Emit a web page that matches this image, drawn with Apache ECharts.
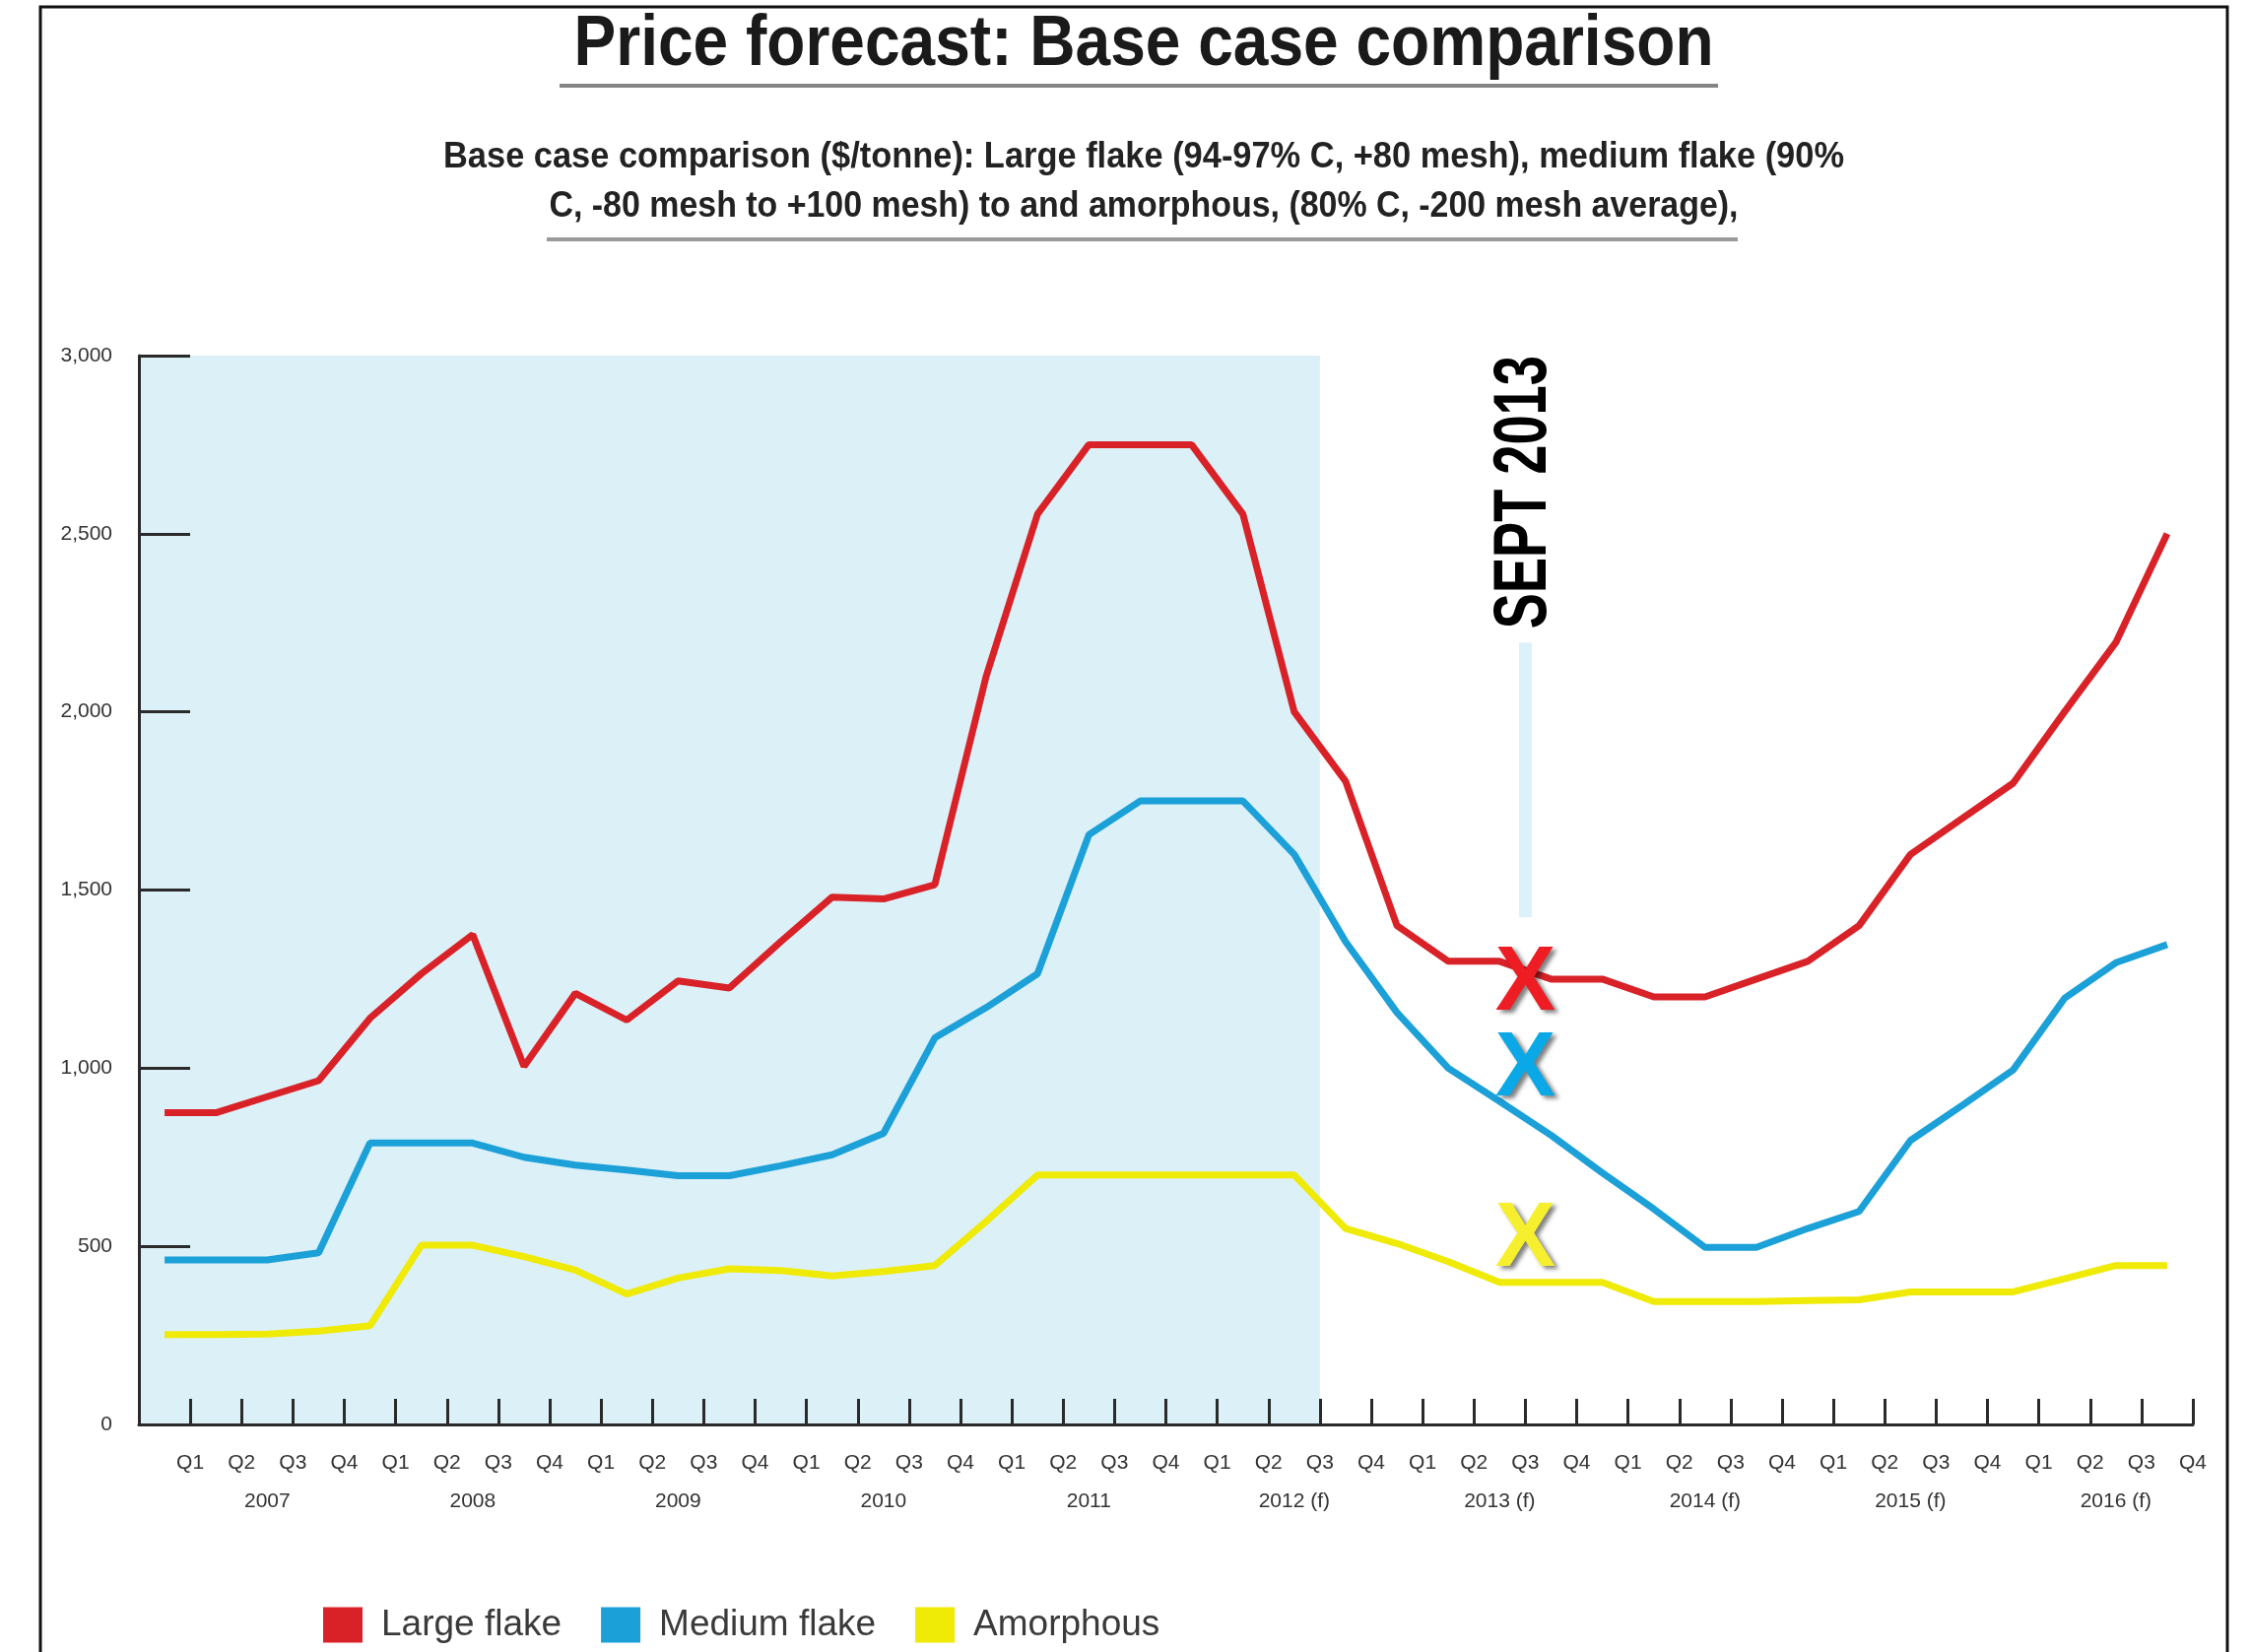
<!DOCTYPE html>
<html>
<head>
<meta charset="utf-8">
<title>Price forecast: Base case comparison</title>
<script src="https://cdn.jsdelivr.net/npm/echarts@6/dist/echarts.min.js"></script>
<style>
  html, body { margin: 0; padding: 0; background: #fff; }
  #main { width: 2284px; height: 1677px; }
</style>
</head>
<body>
<div id="main"></div>
<script>
// quarters and years along the x axis
const quarterLabels = ['Q1', 'Q2', 'Q3', 'Q4']
const years = ['2007', '2008', '2009', '2010', '2011', '2012 (f)', '2013 (f)', '2014 (f)', '2015 (f)', '2016 (f)']

// $/tonne, one value per quarter, 2007 Q1 .. 2016 Q4
const largeFlake = [
  875, 875, 920, 965, 1140, 1265, 1375, 1005, 1210, 1135,
  1245, 1225, 1355, 1480, 1475, 1515, 2100, 2555, 2750, 2750,
  2750, 2555, 2000, 1805, 1400, 1300, 1300, 1250, 1250, 1200,
  1200, 1250, 1300, 1400, 1600, 1700, 1800, 2000, 2195, 2500
]
const mediumFlake = [
  462, 462, 462, 482, 790, 790, 790, 750, 728, 714,
  698, 698, 726, 757, 817, 1085, 1170, 1265, 1655, 1750,
  1750, 1750, 1600, 1355, 1156, 1000, 907, 812, 706, 605,
  497, 497, 550, 598, 797, 895, 995, 1196, 1296, 1347
]
const amorphous = [
  252, 252, 254, 262, 277, 503, 503, 471, 433, 366,
  411, 437, 432, 417, 429, 446, 570, 700, 700, 700,
  700, 700, 700, 550, 508, 457, 399, 399, 399, 345,
  345, 345, 348, 350, 372, 372, 372, 409, 446, 446
]

// y axis ticks
const yMin = 0
const yMax = 3000
const yStep = 500

// shaded history runs up to this quarter boundary (2012 Q3)
const historyEnd = 23
// Sept 2013 annotation: quarter boundary, X marks, light bar range
const septQuarter = 27
const septMarks = [1235, 995, 515]
const septBar = [1424, 2195]

const RED = '#d92228'
const BLUE = '#1ba0d8'
const YELLOW = '#efea06'
const markColors = ['#ee1d23', '#0aa8e6', '#f6ef2e']
const SHADE = '#dcf0f8'
const AXIS = '#2a2a2a'
const SANS = '"Liberation Sans", Arial, sans-serif'
const NARROW = '"Liberation Sans Narrow", "Liberation Sans", Arial, sans-serif'

const toPoints = arr => arr.map((v, i) => [i + 0.5, v])

// scale a text horizontally so it fills the width it has in the reference
function fitScale (text, font, width) {
  const ctx = document.createElement('canvas').getContext('2d')
  ctx.font = font
  return width / ctx.measureText(text).width
}

function fittedText (text, x, y, size, width, color) {
  const font = 'bold ' + size + 'px ' + NARROW
  return {
    type: 'text',
    x: x,
    y: y,
    scaleX: fitScale(text, font, width),
    silent: true,
    style: { text: text, font: font, fill: color, align: 'center', verticalAlign: 'middle' }
  }
}

const title = 'Price forecast: Base case comparison'
const sub1 = 'Base case comparison ($/tonne): Large flake (94-97% C, +80 mesh), medium flake (90%'
const sub2 = 'C, -80 mesh to +100 mesh) to and amorphous, (80% C, -200 mesh average),'

const myChart = echarts.init(document.getElementById('main'))

myChart.setOption({
  animation: false,
  backgroundColor: '#fff',
  grid: { left: 141, right: 58, top: 361, bottom: 231 },
  legend: {
    data: ['Large flake', 'Medium flake', 'Amorphous'],
    left: 323,
    top: 1626,
    icon: 'rect',
    itemWidth: 40,
    itemHeight: 36,
    itemGap: 40,
    textStyle: { fontFamily: SANS, fontSize: 37, color: '#3a3a3a', padding: [0, 0, 0, 14] }
  },
  xAxis: [
    {
      type: 'value',
      z: 6,
      min: 0,
      max: 40,
      interval: 1,
      axisLine: { show: true, lineStyle: { color: AXIS, width: 3 } },
      axisTick: { show: true, inside: true, length: 26, lineStyle: { color: AXIS, width: 3 } },
      splitLine: { show: false },
      axisLabel: {
        margin: 29,
        fontFamily: SANS,
        fontSize: 21,
        color: '#333',
        formatter: v => (v >= 1 && v <= 40) ? quarterLabels[(v - 1) % 4] : ''
      }
    },
    {
      type: 'value',
      position: 'bottom',
      min: 0,
      max: 40,
      interval: 0.5,
      axisLine: { show: false },
      axisTick: { show: false },
      splitLine: { show: false },
      axisLabel: {
        margin: 68,
        fontFamily: SANS,
        fontSize: 21,
        color: '#333',
        formatter: v => {
          const k = (v - 2.5) / 4
          return (Number.isInteger(k) && k >= 0 && k < years.length) ? years[k] : ''
        }
      }
    }
  ],
  yAxis: {
    type: 'value',
    z: 6,
    min: yMin,
    max: yMax,
    interval: yStep,
    axisLine: { show: true, lineStyle: { color: AXIS, width: 3 } },
    axisTick: { show: true, inside: true, length: 52, lineStyle: { color: AXIS, width: 3 } },
    splitLine: { show: false },
    axisLabel: {
      margin: 27,
      fontFamily: SANS,
      fontSize: 21,
      color: '#333',
      formatter: v => v.toLocaleString('en-US')
    }
  },
  series: [
    {
      name: 'Large flake',
      type: 'line',
      data: toPoints(largeFlake),
      showSymbol: false,
      z: 3,
      lineStyle: { color: RED, width: 7 },
      itemStyle: { color: RED },
      markArea: {
        silent: true,
        z: 1,
        itemStyle: { color: SHADE },
        data: [[{ xAxis: 0, yAxis: yMin }, { xAxis: historyEnd, yAxis: yMax + 20 }]]
      }
    },
    {
      name: 'Medium flake',
      type: 'line',
      data: toPoints(mediumFlake),
      showSymbol: false,
      z: 3,
      lineStyle: { color: BLUE, width: 7 },
      itemStyle: { color: BLUE }
    },
    {
      name: 'Amorphous',
      type: 'line',
      data: toPoints(amorphous),
      showSymbol: false,
      z: 3,
      lineStyle: { color: YELLOW, width: 7 },
      itemStyle: { color: YELLOW }
    },
    {
      name: 'Sept 2013',
      type: 'scatter',
      z: 5,
      symbol: 'circle',
      symbolSize: 1,
      itemStyle: { color: 'transparent' },
      emphasis: { disabled: true },
      data: septMarks.map((v, i) => ({ value: [septQuarter, v], label: { color: markColors[i] } })),
      label: {
        show: true,
        position: 'inside',
        formatter: 'X',
        fontFamily: SANS,
        fontWeight: 'bold',
        fontSize: 92,
        opacity: 1,
        textBorderWidth: 0,
        textShadowColor: 'rgba(0,0,0,0.5)',
        textShadowBlur: 4,
        textShadowOffsetX: 4,
        textShadowOffsetY: 3
      },
      markLine: {
        silent: true,
        symbol: ['none', 'none'],
        label: { show: false },
        lineStyle: { color: '#dcf2fb', width: 13, type: 'solid' },
        data: [[{ coord: [septQuarter, septBar[0]] }, { coord: [septQuarter, septBar[1]] }]]
      }
    }
  ]
})

// texts and frame drawn around the plot
const barTop = myChart.convertToPixel({ xAxisIndex: 0, yAxisIndex: 0 }, [septQuarter, septBar[1]])
const septFont = 'bold 76px ' + NARROW
const septLen = 277

myChart.setOption({
  graphic: [
    {
      type: 'rect',
      silent: true,
      shape: { x: 41, y: 7, width: 2220, height: 1720 },
      style: { fill: 'none', stroke: '#111', lineWidth: 3 }
    },
    fittedText(title, 1161, 46, 72, 1157, '#1a1a1a'),
    {
      type: 'line',
      silent: true,
      shape: { x1: 568, y1: 87, x2: 1744, y2: 87 },
      style: { stroke: '#858585', lineWidth: 4 }
    },
    fittedText(sub1, 1161, 160, 36, 1422, '#222'),
    fittedText(sub2, 1161, 210, 36, 1207, '#222'),
    {
      type: 'line',
      silent: true,
      shape: { x1: 555, y1: 243, x2: 1764, y2: 243 },
      style: { stroke: '#9a9a9a', lineWidth: 4 }
    },
    {
      type: 'text',
      silent: true,
      x: barTop[0],
      y: barTop[1] - 14 - septLen / 2,
      rotation: Math.PI / 2,
      scaleX: fitScale('SEPT 2013', septFont, septLen),
      style: { text: 'SEPT 2013', font: septFont, fill: '#000', align: 'center', verticalAlign: 'middle' }
    }
  ]
})
</script>
</body>
</html>
